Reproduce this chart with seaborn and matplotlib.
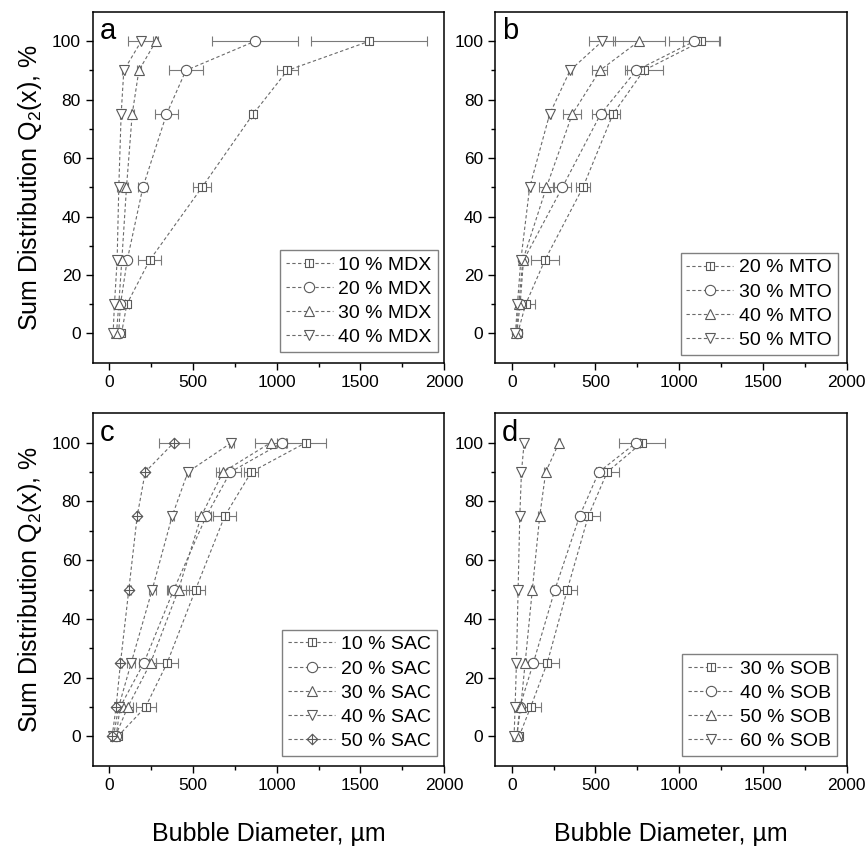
import numpy as np
import pandas as pd
import matplotlib
matplotlib.use("Agg")
import matplotlib.pyplot as plt
from matplotlib.path import Path
import seaborn as sns

# Cumulative levels of the sum distribution Q2(x), in %
q_levels = [0, 10, 25, 50, 75, 90, 100]

# (a) maltodextrin
mdx_labels = ["10 % MDX", "20 % MDX", "30 % MDX", "40 % MDX"]
mdx_10 = [72, 104, 240, 553, 858, 1064, 1553]
mdx_10_err = [6, 12, 70, 53, 12, 64, 348]
mdx_20 = [55, 66, 106, 200, 341, 457, 870]
mdx_20_err = [5, 8, 10, 27, 70, 103, 256]
mdx_30 = [42, 56, 74, 102, 136, 176, 278]
mdx_30_err = [4, 6, 8, 10, 10, 12, 15]
mdx_40 = [22, 30, 46, 56, 70, 86, 190]
mdx_40_err = [4, 5, 6, 8, 8, 10, 80]

# (b) MTO
mto_labels = ["20 % MTO", "30 % MTO", "40 % MTO", "50 % MTO"]
mto_20 = [35, 83, 197, 425, 604, 788, 1132]
mto_20_err = [5, 55, 85, 40, 45, 113, 110]
mto_30 = [30, 50, 70, 302, 530, 743, 1090]
mto_30_err = [4, 6, 8, 50, 50, 54, 150]
mto_40 = [26, 42, 66, 207, 361, 526, 759]
mto_40_err = [4, 5, 8, 42, 53, 45, 155]
mto_50 = [22, 34, 54, 107, 226, 348, 540]
mto_50_err = [3, 4, 6, 8, 10, 10, 77]

# (c) SAC
sac_labels = ["10 % SAC", "20 % SAC", "30 % SAC", "40 % SAC", "50 % SAC"]
sac_10 = [50, 216, 345, 515, 689, 848, 1174]
sac_10_err = [6, 60, 65, 58, 70, 42, 118]
sac_20 = [40, 64, 206, 385, 579, 723, 1034]
sac_20_err = [5, 8, 30, 40, 30, 66, 30]
sac_30 = [35, 110, 246, 413, 549, 679, 964]
sac_30_err = [5, 30, 30, 60, 40, 44, 92]
sac_40 = [24, 55, 130, 256, 375, 469, 729]
sac_40_err = [4, 6, 25, 20, 12, 12, 15]
sac_50 = [16, 40, 66, 116, 166, 214, 385]
sac_50_err = [3, 5, 8, 10, 10, 10, 90]

# (d) SOB
sob_labels = ["30 % SOB", "40 % SOB", "50 % SOB", "60 % SOB"]
sob_30 = [44, 113, 212, 332, 457, 570, 778]
sob_30_err = [6, 60, 70, 55, 67, 69, 135]
sob_40 = [30, 48, 129, 258, 405, 520, 743]
sob_40_err = [4, 6, 10, 15, 15, 15, 20]
sob_50 = [30, 54, 80, 123, 167, 203, 282]
sob_50_err = [4, 6, 8, 8, 8, 8, 8]
sob_60 = [14, 20, 28, 38, 48, 58, 74]
sob_60_err = [3, 4, 6, 6, 6, 6, 6]

# Custom open symbols: square with a centre bar, diamond with a cross
sq_bar = Path(
    [(-1, -1), (1, -1), (1, 1), (-1, 1), (-1, -1), (0, -1), (0, 1)],
    [Path.MOVETO, Path.LINETO, Path.LINETO, Path.LINETO, Path.CLOSEPOLY,
     Path.MOVETO, Path.LINETO],
)
dia_cross = Path(
    [(0, -1), (1, 0), (0, 1), (-1, 0), (0, -1), (-1, 0), (1, 0), (0, -1), (0, 1)],
    [Path.MOVETO, Path.LINETO, Path.LINETO, Path.LINETO, Path.CLOSEPOLY,
     Path.MOVETO, Path.LINETO, Path.MOVETO, Path.LINETO],
)
SYMBOLS = [(sq_bar, 5.8), ("o", 7.4), ("^", 7.6), ("v", 7.6), (dia_cross, 7.6)]

LINE = "#6a6a6a"
MARK = "#5a5a5a"
ERR = "#7a7a7a"

sns.set_theme(style="ticks", rc={
    "axes.linewidth": 1.1,
    "axes.edgecolor": "black",
    "xtick.major.size": 5, "ytick.major.size": 5,
    "xtick.minor.size": 3, "ytick.minor.size": 3,
    "xtick.major.width": 1.0, "ytick.major.width": 1.0,
    "xtick.minor.width": 1.0, "ytick.minor.width": 1.0,
    "xtick.major.pad": 3.5, "ytick.major.pad": 3.5,
    "xtick.labelsize": 12.5, "ytick.labelsize": 12.5,
    "xtick.color": "black", "ytick.color": "black",
    "axes.labelcolor": "black", "text.color": "black",
})
plt.rcParams["font.family"] = ["Liberation Sans", "DejaVu Sans"]
plt.rcParams["mathtext.default"] = "regular"

fig = plt.figure(figsize=(8.67, 8.52), dpi=100)
W, H = 867, 852


def rect(left, top, right, bottom):
    return [left / W, 1 - bottom / H, (right - left) / W, (bottom - top) / H]


ax_a = fig.add_axes(rect(92.7, 12, 444, 362.7))
ax_b = fig.add_axes(rect(495, 12, 846.7, 362.7))
ax_c = fig.add_axes(rect(92.7, 413.3, 444, 765.7))
ax_d = fig.add_axes(rect(495, 413.3, 846.7, 765.7))


def draw_panel(ax, letter, labels, series, errors, legend_anchor):
    handles = []
    for i, (lab, xs, es) in enumerate(zip(labels, series, errors)):
        sym, size = SYMBOLS[i]
        ax.errorbar(xs, q_levels, xerr=es, fmt="none", ecolor=ERR,
                    elinewidth=0.8, capsize=3.5, capthick=0.8, zorder=2)
        df = pd.DataFrame({"diameter": xs, "q2": q_levels})
        sns.lineplot(data=df, x="diameter", y="q2", ax=ax, sort=False,
                     estimator=None, color=LINE, linewidth=0.8,
                     linestyle=(0, (3, 2.2)), marker=sym, markersize=size,
                     markerfacecolor="white", markeredgecolor=MARK,
                     markeredgewidth=0.8, legend=False, zorder=3)
        handles.append(ax.lines[-1])

    ax.set_xlim(-100, 2000)
    ax.set_ylim(-10, 110)
    ax.set_xticks([0, 500, 1000, 1500, 2000])
    ax.set_xticks([250, 750, 1250, 1750], minor=True)
    ax.set_yticks([0, 20, 40, 60, 80, 100])
    ax.set_yticks([10, 30, 50, 70, 90], minor=True)
    ax.tick_params(which="both", direction="out", top=False, right=False)
    ax.set_xlabel("")
    ax.set_ylabel("")
    for s in ax.spines.values():
        s.set_visible(True)
        s.set_linewidth(1.1)

    ax.text(0.02, 0.985, letter, transform=ax.transAxes, ha="left",
            va="top", fontsize=21)

    leg = ax.legend(handles, labels, loc="lower right",
                    bbox_to_anchor=legend_anchor, borderaxespad=0,
                    frameon=True, fancybox=False, framealpha=1,
                    edgecolor="#808080", fontsize=14, handlelength=2.4,
                    handletextpad=0.3, labelspacing=0.34, borderpad=0.3,
                    numpoints=1)
    leg.get_frame().set_linewidth(1.0)


draw_panel(ax_a, "a", mdx_labels, [mdx_10, mdx_20, mdx_30, mdx_40],
           [mdx_10_err, mdx_20_err, mdx_30_err, mdx_40_err], (0.982, 0.0305))
draw_panel(ax_b, "b", mto_labels, [mto_20, mto_30, mto_40, mto_50],
           [mto_20_err, mto_30_err, mto_40_err, mto_50_err], (0.974, 0.022))
draw_panel(ax_c, "c", sac_labels, [sac_10, sac_20, sac_30, sac_40, sac_50],
           [sac_10_err, sac_20_err, sac_30_err, sac_40_err, sac_50_err],
           (0.979, 0.0275))
draw_panel(ax_d, "d", sob_labels, [sob_30, sob_40, sob_50, sob_60],
           [sob_30_err, sob_40_err, sob_50_err, sob_60_err], (0.973, 0.0275))

for ax in (ax_a, ax_c):
    ax.set_ylabel("Sum Distribution Q$_2$(x), %", fontsize=18, labelpad=6)
for ax in (ax_c, ax_d):
    ax.set_xlabel("Bubble Diameter, µm", fontsize=18, labelpad=21)

fig.savefig("out.png", dpi=100)
